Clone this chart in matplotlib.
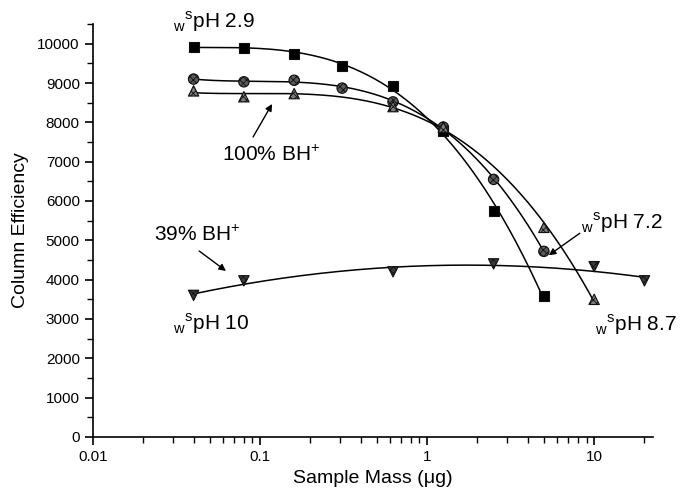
import matplotlib
matplotlib.use("Agg")
import matplotlib.pyplot as plt
import matplotlib.ticker as mtick
import numpy as np

plt.rcParams["font.family"] = ["Liberation Sans", "DejaVu Sans"]
plt.rcParams["mathtext.fontset"] = "custom"
plt.rcParams["mathtext.rm"] = "Liberation Sans"
plt.rcParams["hatch.linewidth"] = 0.6

# sample mass (ug) and column efficiency, one pair of lists per buffer pH
mass_29 = [0.04, 0.08, 0.16, 0.31, 0.625, 1.25, 2.5, 5]
eff_29 = [9920, 9900, 9730, 9440, 8930, 7780, 5740, 3580]

mass_72 = [0.04, 0.08, 0.16, 0.31, 0.625, 1.25, 2.5, 5]
eff_72 = [9100, 9030, 9070, 8870, 8520, 7880, 6550, 4720]

mass_87 = [0.04, 0.08, 0.16, 0.625, 1.25, 5, 10]
eff_87 = [8800, 8650, 8730, 8400, 7880, 5330, 3500]

mass_10 = [0.04, 0.08, 0.625, 2.5, 10, 20]
eff_10 = [3600, 3970, 4200, 4400, 4330, 3970]

y_ticks = list(range(0, 10001, 1000))
x_ticks = [0.01, 0.1, 1, 10]
x_ticklabels = ["0.01", "0.1", "1", "10"]


def fit_curve(x, y, deg):
    """Smooth fitted line in log10(x) space, over the range of the data."""
    lx = np.log10(x)
    coef = np.polyfit(lx, y, deg)
    xs = np.linspace(lx.min(), lx.max(), 200)
    return 10 ** xs, np.polyval(coef, xs)


def ph_label(value):
    return r"$_\mathregular{w}{}^\mathregular{s}$pH " + value


fig = plt.figure(figsize=(6.86, 4.98), dpi=100)
ax = fig.add_axes([0.1356, 0.1225, 0.8163, 0.8293])

# x, y, marker, fill, hatch, fit degree
series = [
    (mass_29, eff_29, "s", "black", None, 3),
    (mass_72, eff_72, "o", "#5a5a5a", "xxxxx", 3),
    (mass_87, eff_87, "^", "#7c7c7c", "xxxxx", 3),
    (mass_10, eff_10, "v", "#3a3a3a", "xxxxx", 2),
]
for x, y, m, c, h, deg in series:
    xs, ys = fit_curve(np.array(x), np.array(y), deg)
    ax.plot(xs, ys, "-", color="black", lw=1.1, zorder=2)
    ax.scatter(x, y, s=56, marker=m, facecolor=c, edgecolor="#111111",
               linewidths=0.8, hatch=h, zorder=3)

ax.set_xscale("log")
ax.set_xlim(0.01, 22.5)
ax.set_ylim(0, 10500)
ax.set_xticks(x_ticks)
ax.set_xticklabels(x_ticklabels)
ax.xaxis.set_minor_locator(mtick.LogLocator(base=10, subs=np.arange(2, 10)))
ax.xaxis.set_minor_formatter(mtick.NullFormatter())
ax.set_yticks(y_ticks)
ax.yaxis.set_minor_locator(mtick.MultipleLocator(500))

for s in ["top", "right"]:
    ax.spines[s].set_visible(False)
for s in ["left", "bottom"]:
    ax.spines[s].set_linewidth(1.2)
ax.tick_params(which="major", direction="out", length=6, width=1.2, labelsize=11)
ax.tick_params(which="minor", direction="out", length=4, width=1.0)

ax.set_xlabel("Sample Mass (\u03bcg)", fontsize=14, labelpad=4)
ax.set_ylabel("Column Efficiency", fontsize=14, labelpad=6)

tfs = 15
arrow = dict(arrowstyle="-|>", color="black", lw=1.0, mutation_scale=10,
             shrinkA=0, shrinkB=0)
ax.text(0.0301, 10560, ph_label("2.9"), fontsize=tfs, ha="left", va="center",
        clip_on=False)
ax.text(0.0301, 2870, ph_label("10"), fontsize=tfs, ha="left", va="center")
ax.text(10.1, 2850, ph_label("8.7"), fontsize=tfs, ha="left", va="center",
        clip_on=False)
ax.text(8.3, 5450, ph_label("7.2"), fontsize=tfs, ha="left", va="center",
        clip_on=False)
ax.annotate("", xy=(5.35, 4620), xytext=(8.2, 5180), arrowprops=arrow)
ax.text(0.0592, 7170, "100% BH$^\mathregular{+}$", fontsize=tfs, ha="left", va="center")
ax.annotate("", xy=(0.118, 8467), xytext=(0.0908, 7628), arrowprops=arrow)
ax.text(0.0232, 5136, "39% BH$^\mathregular{+}$", fontsize=tfs, ha="left", va="center")
ax.annotate("", xy=(0.0625, 4221), xytext=(0.0432, 4729), arrowprops=arrow)

fig.savefig("out.png", dpi=100)
